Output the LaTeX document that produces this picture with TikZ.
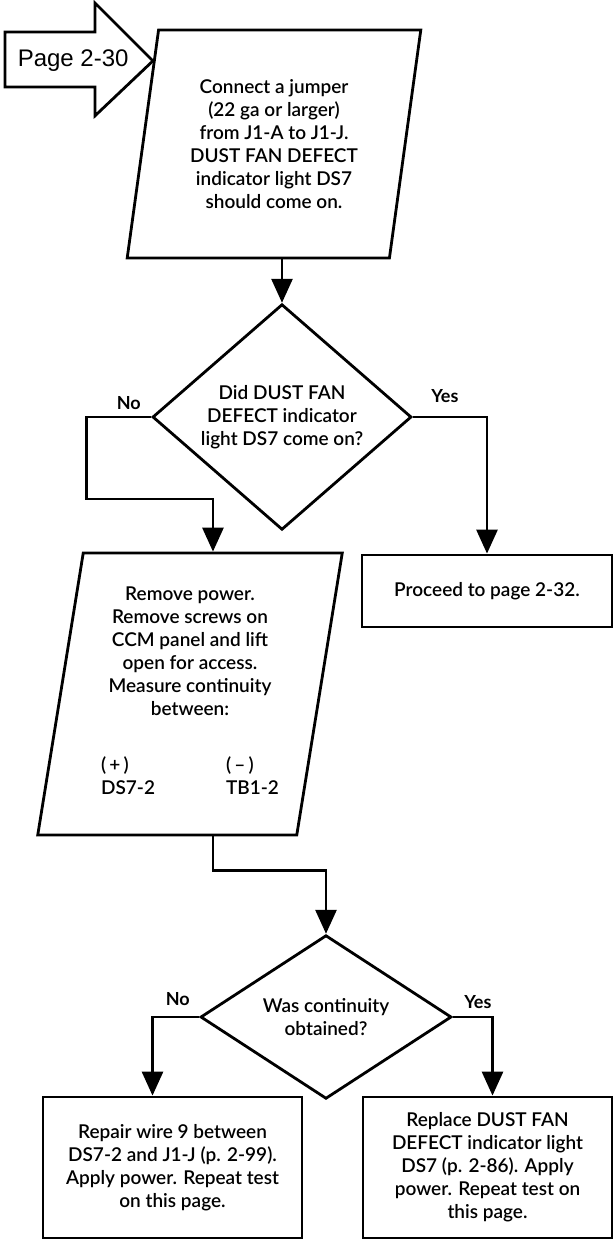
\documentclass[tikz,border=0pt]{standalone}
\usepackage{fontspec}
\setmainfont{Lato}[UprightFont=* Semibold, BoldFont=* Bold]
\newfontfamily\pagefont{Liberation Sans}
\usetikzlibrary{arrows.meta,positioning,calc,shapes.geometric}

\begin{document}
\begin{tikzpicture}[
        x=1pt, y=-1pt,
        font=\fontsize{19pt}{23pt}\selectfont,
        line width=2.8pt,
        proc/.style={trapezium, trapezium left angle=80, trapezium right angle=100,
                     trapezium stretches=true, draw, align=center, inner sep=0pt},
        dec/.style={diamond, draw, align=center, inner sep=0pt},
        box/.style={rectangle, draw, align=center, inner sep=0pt},
        arr/.style={-{Triangle[length=24pt, width=21pt]}},
        lbl/.style={font=\fontsize{18pt}{20pt}\selectfont\bfseries, inner sep=0pt}
    ]
        \useasboundingbox (0,0) rectangle (613,1240);

        %--- Steps and decisions ---
        \node[proc, minimum width=294pt, minimum height=228pt] (act1) at (274,144)
            {Connect a jumper\\(22 ga or larger)\\from J1-A to J1-J.\\DUST FAN DEFECT\\indicator light DS7\\should come on.};
        \node[dec, minimum width=259pt, minimum height=181pt] (dec1) at (282,417)
            {Did DUST FAN\\DEFECT indicator\\light DS7 come on?};
        \node[box, minimum width=250pt, minimum height=72pt] (next) at (487,591)
            {Proceed to page 2-32.};
        \node[proc, minimum width=305pt, minimum height=282pt] (act2) at (190,694)
            {Remove power.\\Remove screws on\\CCM panel and lift\\open for access.\\Measure continuity\\between:\\[39pt]
             \begin{tabular}{@{}p{125pt}@{}l@{}}(\,+\,) & (\,–\,)\\DS7-2 & TB1-2\end{tabular}};
        \coordinate (act2in) at ($(act2.top left corner)!0.5!(act2.top right corner)$);
        \node[dec, minimum width=251pt, minimum height=142pt] (dec2) at (326,1017)
            {Was continuity\\obtained?};
        \node[box, minimum width=259pt, minimum height=141pt] (fix1) at (172.5,1167.5)
            {Repair wire 9 between\\DS7-2 and J1-J (p. 2-99).\\Apply power. Repeat test\\on this page.};
        \node[box, minimum width=249pt, minimum height=141pt] (fix2) at (487.5,1167.5)
            {Replace DUST FAN\\DEFECT indicator light\\DS7 (p. 2-86). Apply\\power. Repeat test on\\this page.};

        %--- Entry pointer ---
        \coordinate (pgtip) at ($(act1.top left corner)!0.14!(act1.bottom left corner)$);
        \draw[line join=miter] (pgtip) -- ++(-58,-58) -- ++(0,29) -- ++(-90,0) -- ++(0,55)
            -- ++(90,0) -- ++(0,29) -- cycle;
        \node[font=\pagefont\fontsize{24pt}{26pt}\selectfont, inner sep=0pt, left=23pt of pgtip] (pglbl) {Page 2-30};

        %--- Connectors ---
        \draw[arr] (act1.south -| dec1.north) -- (dec1.north);
        \draw[arr] (dec1.west) -- ++(-65,0) -- ++(0,82) -| (act2in);
        \draw[arr] (dec1.east) -| (next.north);
        \draw[arr] (act2.south -| act2in) -- ++(0,34) -| (dec2.north);
        \draw[arr] (dec2.west) -| ([xshift=-20pt]fix1.north);
        \draw[arr] (dec2.east) -| ([xshift=5pt]fix2.north);

        %--- Branch labels ---
        \node[lbl, anchor=south east] (no1) at ([xshift=-9pt, yshift=6pt]dec1.west) {No};
        \node[lbl, anchor=south west] (yes1) at ([xshift=17pt, yshift=13pt]dec1.east) {Yes};
        \node[lbl, anchor=south east] (no2) at ([xshift=-8pt, yshift=10pt]dec2.west) {No};
        \node[lbl, anchor=south west] (yes2) at ([xshift=10pt, yshift=7pt]dec2.east) {Yes};
    \end{tikzpicture}
\end{document}
